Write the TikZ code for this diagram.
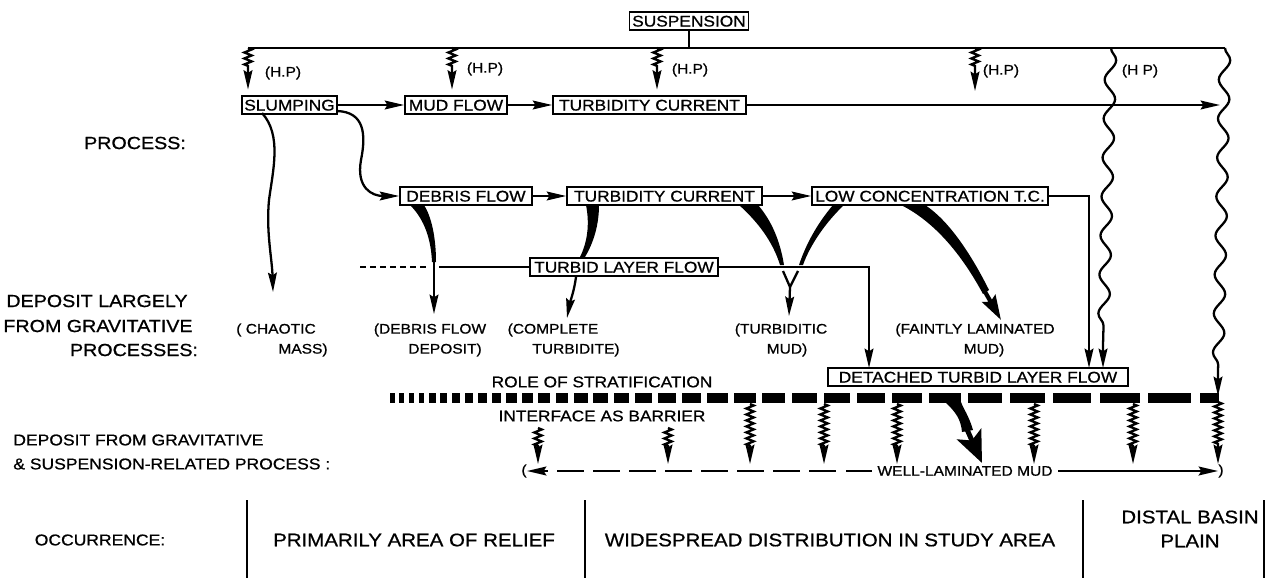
\documentclass[tikz,border=0pt]{standalone}
\usepackage{fontspec}
\newfontfamily\lblfont{Liberation Sans}[FakeStretch=1.12,FakeBold=0.8]
\newcommand\fA{\lblfont\fontsize{8.8}{10.5}\selectfont}
\newcommand\fB{\lblfont\fontsize{7.9}{9.5}\selectfont}
\newcommand\fL{\lblfont\fontsize{10}{12}\selectfont}
\newcommand\fM{\lblfont\fontsize{8.9}{11}\selectfont}
\newcommand\fD{\lblfont\fontsize{10.4}{12}\selectfont}
\usetikzlibrary{arrows.meta,decorations.pathmorphing}
\begin{document}
\begin{tikzpicture}[x=0.02cm,y=-0.02cm,
 >={Stealth[length=11pt,width=5pt,inset=1.5pt]},
 ln/.style={line width=1.3pt},
 box/.style={draw,line width=1pt,fill=white,font=\fA,inner xsep=0pt,inner ysep=0pt,minimum height=0.37cm,text height=6.3pt,text depth=0pt},
 lab/.style={font=\fB,inner sep=0pt},
 side/.style={font=\fL,inner sep=0pt},
 sidem/.style={font=\fM,inner sep=0pt},
 big/.style={font=\fD,inner sep=0pt},
 zig/.style={decoration={zigzag,segment length=3.4pt,amplitude=2.1pt}},
 wav/.style={decoration={snake,segment length=0.78cm,amplitude=0.11cm}},
]
\useasboundingbox (0,0) rectangle (1271,578);

% boxes
\node[box,minimum width=2.38cm] (susp) at (689,21) {SUSPENSION};
\node[box,minimum width=1.9cm] (slump) at (289.5,105) {SLUMPING};
\node[box,minimum width=2.04cm] (mud) at (456,105) {MUD FLOW};
\node[box,minimum width=3.86cm] (tc1) at (649.5,105) {TURBIDITY CURRENT};
\node[box,minimum width=2.64cm] (debris) at (466,196) {DEBRIS FLOW};
\node[box,minimum width=3.9cm] (tc2) at (664.5,196) {TURBIDITY CURRENT};
\node[box,minimum width=4.72cm] (lowc) at (930,196) {LOW CONCENTRATION T.C.};
\node[box,minimum width=3.76cm] (tlf) at (624,267) {TURBID LAYER FLOW};
\node[box,minimum width=6cm] (det) at (978,377) {DETACHED TURBID LAYER FLOW};

% side labels
\node[side] (p1) at (135,143) {PROCESS:};
\node[side] (p2) at (97,301) {DEPOSIT LARGELY};
\node[side] (p3) at (98,326) {FROM GRAVITATIVE};
\node[side] (p4) at (134,350) {PROCESSES:};
\node[sidem,anchor=west] (p5) at (13,440) {DEPOSIT FROM GRAVITATIVE};
\node[sidem,anchor=west] (p6) at (13,464) {\&~SUSPENSION-RELATED PROCESS :};
\node[sidem] (p7) at (100,540) {OCCURRENCE:};

% top line and H.P arrows
\coordinate (t1) at (248,48);
\coordinate (t2) at (452,48);
\coordinate (t3) at (657,48);
\coordinate (t4) at (975,48);
\coordinate (t5) at (1111,48);
\coordinate (tE) at (1225,48);
\coordinate (h4) at (975,91);
\draw[ln] (t1) -- (tE);
\draw[ln] (susp.south) -- (susp.south |- t1);
\draw[ln,->,shorten >=3pt] (t1) decorate[zig]{-- ++(0,20)} -- (t1 |- slump.north);
\draw[ln,->,shorten >=3pt] (t2) decorate[zig]{-- ++(0,20)} -- (t2 |- mud.north);
\draw[ln,->,shorten >=3pt] (t3) decorate[zig]{-- ++(0,20)} -- (t3 |- tc1.north);
\draw[ln,->] (t4) decorate[zig]{-- ++(0,20)} -- (h4);
\node[lab] (hp1) at (283,73) {(H.P)};
\node[lab] (hp2) at (485,69) {(H.P)};
\node[lab] (hp3) at (690,70) {(H.P)};
\node[lab] (hp4) at (1001,71) {(H.P)};
\node[lab] (hp5) at (1140,71) {(H P)};

% wavy lines
\coordinate (rw) at (1218,372);
\coordinate (rs) at (1218,396);
\draw[ln,->] (tE) decorate[wav]{-- (rw)} -- (rs);
\coordinate (lw) at (1103,345);
\coordinate (d3) at (1103,368);
\draw[ln,->] (t5) decorate[wav]{-- (lw)} -- (d3);

% process row
\coordinate (pe) at (1220,105);
\draw[ln,->] (slump) -- (mud);
\draw[ln,->] (mud) -- (tc1);
\draw[ln,->] (tc1) -- (pe);

% slumping branches
\coordinate (s0) at (262,113);
\coordinate (ch) at (273,292);
\draw[ln,->] (s0) .. controls (282,135) and (273,170) .. (269,200) .. controls (266,232) and (272,258) .. (ch);
\coordinate (s1) at (337,111);
\draw[ln,->] (s1) .. controls (365,112) and (366,135) .. (361,160) .. controls (356,188) and (372,196) .. (debris.west);

% row 2
\draw[ln,->] (debris) -- (tc2);
\draw[ln,->] (tc2) -- (lowc);
\coordinate (d2) at (1089,368);
\draw[ln,->] (lowc.east) -| (d2);

% turbid layer flow line
\coordinate (tl0) at (360,267);
\coordinate (tl1) at (428,267);
\coordinate (tl2) at (439,267);
\draw[ln,dash pattern=on 3.4pt off 2.3pt] (tl0) -- (tl1);
\draw[ln] (tl2) -- (tlf.west);
\coordinate (d1) at (869,368);
\draw[ln,->] (tlf.east) -| (d1);

% tapered curves
\fill (410,205) .. controls (425,220) and (431,240) .. (432,262) -- (436,262) .. controls (436,236) and (431,216) .. (424,205) -- cycle;
\coordinate (a1) at (434,261);
\coordinate (a1e) at (434,314);
\draw[ln,->] (a1) -- (a1e);

\fill (586,205) .. controls (590,225) and (587,243) .. (580,257) -- (585,257) .. controls (594,242) and (599,224) .. (599,205) -- cycle;
\coordinate (c0) at (576,277);
\coordinate (c1) at (567,318);
\draw[ln,->] (c0) .. controls (574,292) and (570,302) .. (c1);

\fill (739,205) .. controls (758,222) and (773,242) .. (780,265) -- (784,265) .. controls (780,240) and (771,220) .. (758,205) -- cycle;
\fill (833,205) .. controls (817,224) and (806,244) .. (799,265) -- (803,265) .. controls (810,245) and (826,222) .. (844,205) -- cycle;
\coordinate (v1) at (783,271);
\coordinate (v2) at (790,287);
\coordinate (v3) at (798,271);
\coordinate (v4) at (789,316);
\draw[ln] (v1) -- (v2) -- (v3);
\draw[ln,->] (v2) -- (v4);

\fill (901,205) .. controls (935,222) and (962,255) .. (983,294) -- (989,290) .. controls (970,252) and (948,220) .. (925,205) -- cycle;
\coordinate (f0) at (984,290);
\coordinate (f1) at (1001,320);
\draw[line width=2.4pt,-{Stealth[length=14pt,width=8.5pt,inset=2pt]}] (f0) -- (f1);

% deposit labels
\node[lab] (dc1) at (276,330) {( CHAOTIC};
\node[lab] (dc2) at (303,350) {MASS)};
\node[lab] (dd1) at (430,330) {(DEBRIS FLOW};
\node[lab] (dd2) at (445,350) {DEPOSIT)};
\node[lab] (dt1) at (553,330) {(COMPLETE};
\node[lab] (dt2) at (576,350) {TURBIDITE)};
\node[lab] (dm1) at (781,330) {(TURBIDITIC};
\node[lab] (dm2) at (787,350) {MUD)};
\node[lab] (df1) at (975,330) {(FAINTLY LAMINATED};
\node[lab] (df2) at (984,350) {MUD)};

% stratification
\node[font=\fA,inner sep=0pt] (role) at (602,382) {ROLE OF STRATIFICATION};
\node[font=\fA,inner sep=0pt] (intf) at (602,416) {INTERFACE AS BARRIER};
\gdef\stratx{390}
\foreach \k in {1,...,60}{%
  \pgfmathsetmacro\sdl{4.5+0.05*(\stratx-390)}%
  \pgfmathsetmacro\sdg{4.5+0.006*(\stratx-390)}%
  \pgfmathsetmacro\sde{min(\stratx+\sdl,1219)}%
  \ifdim\stratx pt<1216pt \fill (\stratx,393) rectangle (\sde,403);\fi
  \pgfmathsetmacro\sdn{\stratx+\sdl+\sdg}%
  \xdef\stratx{\sdn}%
}

% short wavy arrows below
\foreach \x/\y in {538/428,668/428,750/404,824/404,897/404,1034/404,1133/404,1218/402}{%
  \draw[ln,->] (\x,\y) decorate[zig]{-- (\x,446)} -- (\x,464);
}
% thick arrow
\fill (945,402) .. controls (956,412) and (961,420) .. (962,432) -- (973,430) .. controls (969,416) and (963,408) .. (961,402) -- cycle;
\coordinate (b0) at (965,425);
\coordinate (b1) at (982,463);
\draw[line width=2.8pt,-{Stealth[length=18pt,width=15pt,inset=4pt]}] (b0) -- (b1);

% well-laminated mud
\node[lab,inner xsep=3pt] (wl) at (965,471) {WELL-LAMINATED MUD};
\node[lab] (lp) at (524,471) {(};
\node[lab] (rp) at (1221,471) {)};
\draw[ln,->,dash pattern=on 15pt off 5.5pt] (wl.west) -- (lp.east);
\draw[ln,->] (wl.east) -- (rp.west);

% occurrence
\draw[ln] (247,500) -- (247,578);
\draw[ln] (585,500) -- (585,578);
\draw[ln] (1083,500) -- (1083,578);
\draw[ln] (1264,500) -- (1264,578);
\node[big] (o1) at (414,540) {PRIMARILY AREA OF RELIEF};
\node[big] (o2) at (830,540) {WIDESPREAD DISTRIBUTION IN STUDY AREA};
\node[big] (o3) at (1190,517) {DISTAL BASIN};
\node[big] (o4) at (1190,541) {PLAIN};
\end{tikzpicture}
\end{document}
